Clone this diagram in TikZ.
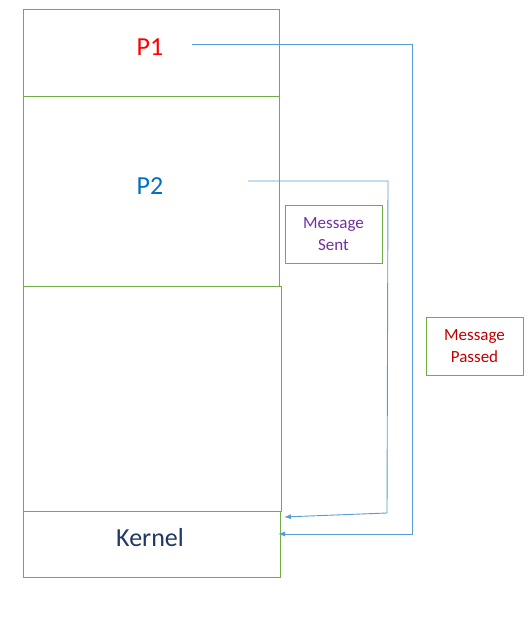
\documentclass[tikz,border=0pt]{standalone}
\usepackage{fontspec}
\setmainfont{Carlito}
\usetikzlibrary{arrows.meta}
\definecolor{boxgreen}{HTML}{70AD47}
\definecolor{arrowblue}{HTML}{5B9BD5}
\definecolor{pred}{HTML}{FF0000}
\definecolor{pblue}{HTML}{0070C0}
\definecolor{knavy}{HTML}{1F3864}
\definecolor{mpurple}{HTML}{7030A0}
\definecolor{mred}{HTML}{C00000}
\begin{document}
\begin{tikzpicture}[x=1pt,y=1pt,
  layer/.style={draw=boxgreen,line width=0.9pt,rectangle,inner sep=0pt},
  label box/.style={draw=boxgreen,line width=0.9pt,rectangle,inner sep=0pt,minimum width=97pt,minimum height=58pt,align=center,font=\fontsize{17}{22}\selectfont},
  big text/.style={font=\fontsize{26}{30}\selectfont,inner sep=0pt},
  msg/.style={draw=arrowblue,line width=0.9pt,-{Latex[length=7pt,width=5pt]}}]
\useasboundingbox (0,0) rectangle (531,636);
\node[layer,minimum width=256pt,minimum height=87pt] (p1box) at (151,583.5) {};
\node[layer,minimum width=256pt,minimum height=190pt] (p2box) at (151,445) {};
\node[layer,minimum width=258pt,minimum height=225pt] (midbox) at (152,237.5) {};
\node[layer,minimum width=257pt,minimum height=66pt] (kbox) at (151.5,92) {};
\node[big text,text=pred] (p1) at (150,589) {P1};
\node[big text,text=pblue] (p2) at (150,450) {P2};
\node[big text,text=knavy] (kernel) at (150,98) {Kernel};
\node[label box,text=mpurple] (sent) at (333.5,402) {Message\\Sent};
\node[label box,text=mred] (passed) at (474.5,290) {Message\\Passed};
\coordinate (p1s) at (192,592);
\coordinate (p2s) at (248,455);
\coordinate (k1) at (278,102);
\coordinate (k2) at (284,119);
\draw[msg] (p1s) -- (412,592) -- (412,102) -- (k1);
\draw[msg] (p2s) -- (388,455) -- (387,123) -- (k2);
\end{tikzpicture}
\end{document}
